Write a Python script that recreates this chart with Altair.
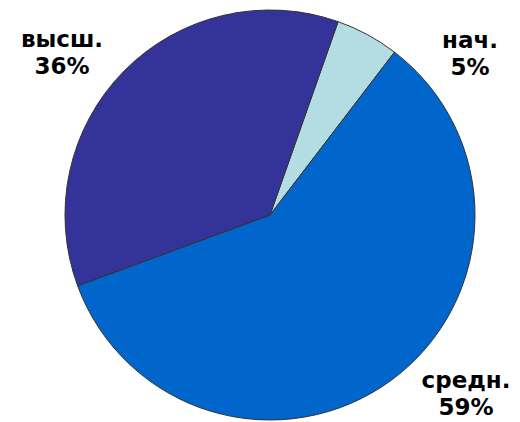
import math
import altair as alt
import pandas as pd

categories = ["нач.", "средн.", "высш."]
values = [5, 59, 36]
colors = ["#b4dde3", "#0066cc", "#333399"]

df = pd.DataFrame({
    "cat": categories,
    "val": values,
    "order": list(range(len(categories))),
    "label": [f"{c}\n{v}%" for c, v in zip(categories, values)],
})

start = math.radians(19.4)

pie = alt.Chart(df).mark_arc(
    outerRadius=205, stroke="#333333", strokeWidth=1
).encode(
    theta=alt.Theta("val:Q", stack=True,
                    scale=alt.Scale(range=[start, start + 2 * math.pi])),
    color=alt.Color("cat:N", scale=alt.Scale(domain=categories, range=colors),
                    legend=None),
    order=alt.Order("order:Q"),
    x=alt.value(262),
    y=alt.value(207),
)

label_pos = {"высш.": (54, 39), "нач.": (462, 40), "средн.": (458, 380)}

layers = [pie]
for cat in categories:
    px, py = label_pos[cat]
    layers.append(
        alt.Chart(df).transform_filter(alt.datum.cat == cat).mark_text(
            font="DejaVu Sans", fontWeight="bold", fontSize=23,
            lineBreak="\n", lineHeight=27, align="center", baseline="alphabetic",
            color="#000000",
        ).encode(text="label:N", x=alt.value(px), y=alt.value(py))
    )

chart = alt.layer(*layers).properties(
    width=504, height=414,
    autosize=alt.AutoSizeParams(type="none"),
    padding=0,
).configure_view(stroke=None)

chart.save("out.html", embed_options={"renderer": "svg", "actions": False})
